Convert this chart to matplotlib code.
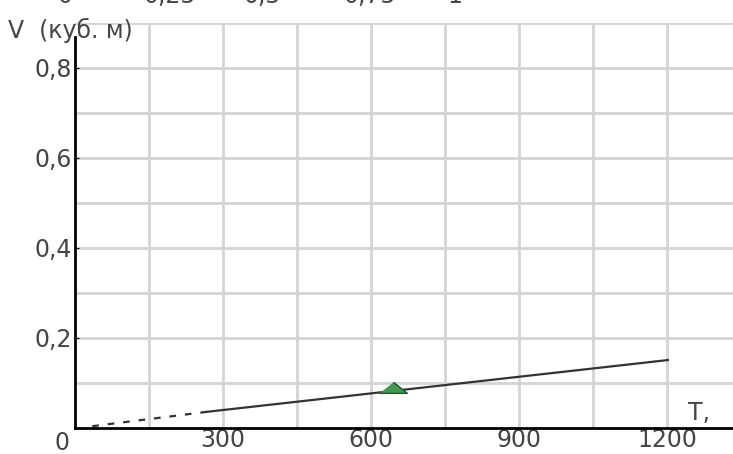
import matplotlib
matplotlib.use("Agg")
import matplotlib.pyplot as plt
import numpy as np

# dashed start and solid part of the line V(T)
t_dash = [35, 268]
v_dash = [0.004, 0.036]
t_solid = [268, 1202]
v_solid = [0.036, 0.151]
# green marker
t_mark = [645]
v_mark = [0.09]

x_ticks = [300, 600, 900, 1200]
x_labels = ["300", "600", "900", "1200"]
y_ticks = [0.2, 0.4, 0.6, 0.8]
y_labels = ["0,2", "0,4", "0,6", "0,8"]
top_labels = ["0", "0,25", "0,5", "0,75", "1"]
top_pos = [65, 170, 262, 370, 455]

fig = plt.figure(figsize=(7.33, 4.54), dpi=100)
ax = fig.add_axes([75/733, 26/454, 658/733, 405/454])
ax.set_xlim(0, 1334)
ax.set_ylim(0, 0.9)

for x in np.arange(150, 1334, 150):
    ax.axvline(x, color="#d4d4d4", lw=2, zorder=0)
for y in np.arange(0.1, 0.91, 0.1):
    ax.axhline(y, color="#d4d4d4", lw=2, zorder=0)

ax.plot(t_dash, v_dash, color="#333333", lw=1.6, dashes=(3, 4))
ax.plot(t_solid, v_solid, color="#333333", lw=1.6)
ax.plot(t_mark, v_mark, linestyle="none",
        marker=[(-1, -0.35), (1, -0.35), (0, 0.45)], markersize=20,
        color="#3f9a4f", markeredgecolor="#1d5a28", markeredgewidth=1)

for s in ["top", "right"]:
    ax.spines[s].set_visible(False)
ax.spines["left"].set_linewidth(2)
ax.spines["bottom"].set_linewidth(2)
ax.spines["left"].set_bounds(0, 0.87)

txt = dict(fontsize=17, color="#454545", family="DejaVu Sans")
ax.set_xticks(x_ticks)
ax.set_xticklabels(x_labels, **txt)
ax.set_yticks(y_ticks)
ax.set_yticklabels(y_labels, **txt)
ax.tick_params(axis="x", length=0, pad=0)
ax.tick_params(axis="y", length=3, direction="in", pad=2)

fig.text(55/733, 1 - 450/454, "0", **txt)
fig.text(688/733, 1 - 420/454, "T,", **txt)
fig.text(8/733, 1 - 38/454, "V  (куб. м)", **txt)
# scale labels of a chart above, cut by the top edge
for lab, x in zip(top_labels, top_pos):
    fig.text(x/733, 1 - 3/454, lab, ha="center", va="baseline", **txt)

fig.savefig("out.png", dpi=100)
